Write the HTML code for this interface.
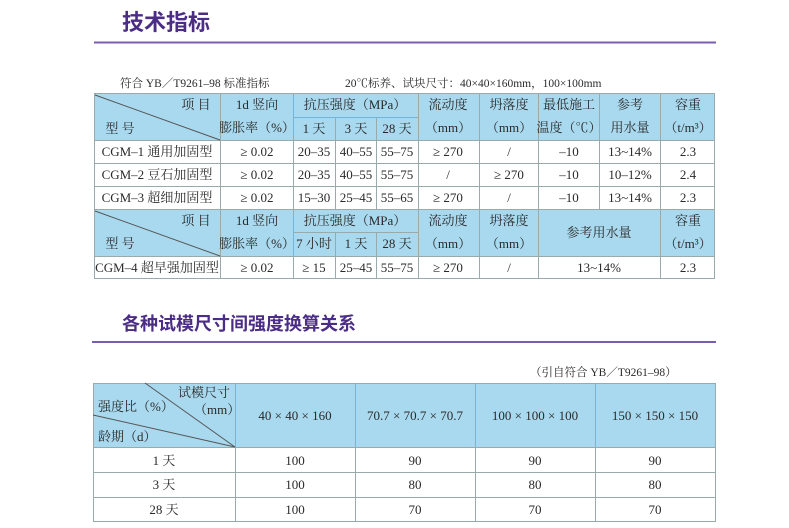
<!DOCTYPE html>
<html><head><meta charset="utf-8"><style>
html,body{margin:0;padding:0;background:#fff;}
svg{display:block;}
text{font-family:"Liberation Serif","Noto Serif CJK SC",serif;fill:#2a2a2a;font-size:13px;}
.t{font-family:"Liberation Sans","Noto Sans CJK SC",sans-serif;font-weight:bold;fill:#4b2d86;}
</style></head><body>
<svg width="789" height="528" viewBox="0 0 789 528" xmlns="http://www.w3.org/2000/svg">
<rect width="789" height="528" fill="#fff"/>
<text class="t" x="122" y="30" style="font-size:22px">技术指标</text>
<line x1="94" y1="42.5" x2="716" y2="42.5" stroke="#7a5db0" stroke-width="2"/>
<text x="120" y="87" style="font-size:11.5px">符合 YB／T9261–98 标准指标</text>
<text x="345" y="87" style="font-size:11.5px">20℃标养、试块尺寸：40×40×160mm，100×100mm</text>
<g fill="#a9d9ee">
<rect x="94" y="93" width="621" height="47"/>
<rect x="94" y="209" width="621" height="47"/>
</g>
<g stroke="#9aa" stroke-width="1" fill="none">
<rect x="94.5" y="93.5" width="620" height="185"/>
<line x1="94" y1="140.5" x2="715" y2="140.5"/>
<line x1="94" y1="163.5" x2="715" y2="163.5"/>
<line x1="94" y1="186.5" x2="715" y2="186.5"/>
<line x1="94" y1="209.5" x2="715" y2="209.5"/>
<line x1="94" y1="256.5" x2="715" y2="256.5"/>
<line x1="293" y1="117.5" x2="418" y2="117.5"/>
<line x1="293" y1="232.5" x2="418" y2="232.5"/>
<line x1="220.5" y1="93" x2="220.5" y2="279"/>
<line x1="293.5" y1="93" x2="293.5" y2="279"/>
<line x1="335.5" y1="117" x2="335.5" y2="209"/>
<line x1="376.5" y1="117" x2="376.5" y2="209"/>
<line x1="335.5" y1="232" x2="335.5" y2="279"/>
<line x1="376.5" y1="232" x2="376.5" y2="279"/>
<line x1="418.5" y1="93" x2="418.5" y2="279"/>
<line x1="479.5" y1="93" x2="479.5" y2="279"/>
<line x1="538.5" y1="93" x2="538.5" y2="279"/>
<line x1="599.5" y1="93" x2="599.5" y2="209"/>
<line x1="660.5" y1="93" x2="660.5" y2="279"/>
<line x1="95" y1="95" x2="220" y2="140" stroke="#555"/>
<line x1="95" y1="211" x2="220" y2="256" stroke="#555"/>
</g>
<g text-anchor="middle">
<text x="196" y="109">项 目</text><text x="120" y="133">型 号</text>
<text x="257" y="109">1d 竖向</text><text x="257" y="132">膨胀率（%）</text>
<text x="355" y="109">抗压强度（MPa）</text>
<text x="314" y="133">1 天</text><text x="356" y="133">3 天</text><text x="397" y="133">28 天</text>
<text x="448" y="109">流动度</text><text x="448" y="132">（mm）</text>
<text x="509" y="109">坍落度</text><text x="509" y="132">（mm）</text>
<text x="569" y="109">最低施工</text><text x="569" y="132">温度（℃）</text>
<text x="630" y="109">参考</text><text x="630" y="132">用水量</text>
<text x="688" y="109">容重</text><text x="688" y="132">（t/m³）</text>

<text x="157" y="156">CGM–1 通用加固型</text><text x="257" y="156">≥ 0.02</text><text x="314" y="156">20–35</text><text x="356" y="156">40–55</text><text x="397" y="156">55–75</text><text x="448" y="156">≥ 270</text><text x="509" y="156">/</text><text x="569" y="156">–10</text><text x="630" y="156">13~14%</text><text x="688" y="156">2.3</text>
<text x="157" y="179">CGM–2 豆石加固型</text><text x="257" y="179">≥ 0.02</text><text x="314" y="179">20–35</text><text x="356" y="179">40–55</text><text x="397" y="179">55–75</text><text x="448" y="179">/</text><text x="509" y="179">≥ 270</text><text x="569" y="179">–10</text><text x="630" y="179">10–12%</text><text x="688" y="179">2.4</text>
<text x="157" y="202">CGM–3 超细加固型</text><text x="257" y="202">≥ 0.02</text><text x="314" y="202">15–30</text><text x="356" y="202">25–45</text><text x="397" y="202">55–65</text><text x="448" y="202">≥ 270</text><text x="509" y="202">/</text><text x="569" y="202">–10</text><text x="630" y="202">13~14%</text><text x="688" y="202">2.3</text>

<text x="196" y="225">项 目</text><text x="120" y="248">型 号</text>
<text x="257" y="225">1d 竖向</text><text x="257" y="248">膨胀率（%）</text>
<text x="355" y="225">抗压强度（MPa）</text>
<text x="314" y="248">7 小时</text><text x="356" y="248">1 天</text><text x="397" y="248">28 天</text>
<text x="448" y="225">流动度</text><text x="448" y="248">（mm）</text>
<text x="509" y="225">坍落度</text><text x="509" y="248">（mm）</text>
<text x="599" y="237">参考用水量</text>
<text x="688" y="225">容重</text><text x="688" y="248">（t/m³）</text>
<text x="157" y="272">CGM–4 超早强加固型</text><text x="257" y="272">≥ 0.02</text><text x="314" y="272">≥ 15</text><text x="356" y="272">25–45</text><text x="397" y="272">55–75</text><text x="448" y="272">≥ 270</text><text x="509" y="272">/</text><text x="599" y="272">13~14%</text><text x="688" y="272">2.3</text>
</g>

<text class="t" x="122" y="330" style="font-size:18px">各种试模尺寸间强度换算关系</text>
<line x1="92" y1="342" x2="716" y2="342" stroke="#7a5db0" stroke-width="2"/>
<text x="530" y="376" style="font-size:11.5px">（引自符合 YB／T9261–98）</text>
<rect x="93" y="383" width="623" height="64" fill="#a9d9ee"/>
<g stroke="#9aa" fill="none">
<rect x="93.5" y="383.5" width="622" height="138"/>
<line x1="93" y1="447.5" x2="716" y2="447.5"/>
<line x1="93" y1="472.5" x2="716" y2="472.5"/>
<line x1="93" y1="497.5" x2="716" y2="497.5"/>
<line x1="235.5" y1="383" x2="235.5" y2="522"/>
<line x1="355.5" y1="383" x2="355.5" y2="522"/>
<line x1="475.5" y1="383" x2="475.5" y2="522"/>
<line x1="595.5" y1="383" x2="595.5" y2="522"/>
<line x1="145" y1="383" x2="235" y2="447" stroke="#555"/>
<line x1="93" y1="415" x2="235" y2="447" stroke="#555"/>
</g>
<text x="178" y="397">试模尺寸</text>
<text x="194" y="414">（mm）</text>
<text x="98" y="411">强度比（%）</text>
<text x="98" y="441">龄期（d）</text>
<g text-anchor="middle">
<text x="295" y="420">40 × 40 × 160</text><text x="415" y="420">70.7 × 70.7 × 70.7</text><text x="535" y="420">100 × 100 × 100</text><text x="655" y="420">150 × 150 × 150</text>
<text x="164" y="465">1 天</text><text x="295" y="465">100</text><text x="415" y="465">90</text><text x="535" y="465">90</text><text x="655" y="465">90</text>
<text x="164" y="489">3 天</text><text x="295" y="489">100</text><text x="415" y="489">80</text><text x="535" y="489">80</text><text x="655" y="489">80</text>
<text x="164" y="514">28 天</text><text x="295" y="514">100</text><text x="415" y="514">70</text><text x="535" y="514">70</text><text x="655" y="514">70</text>
</g>
</svg>
</body></html>
